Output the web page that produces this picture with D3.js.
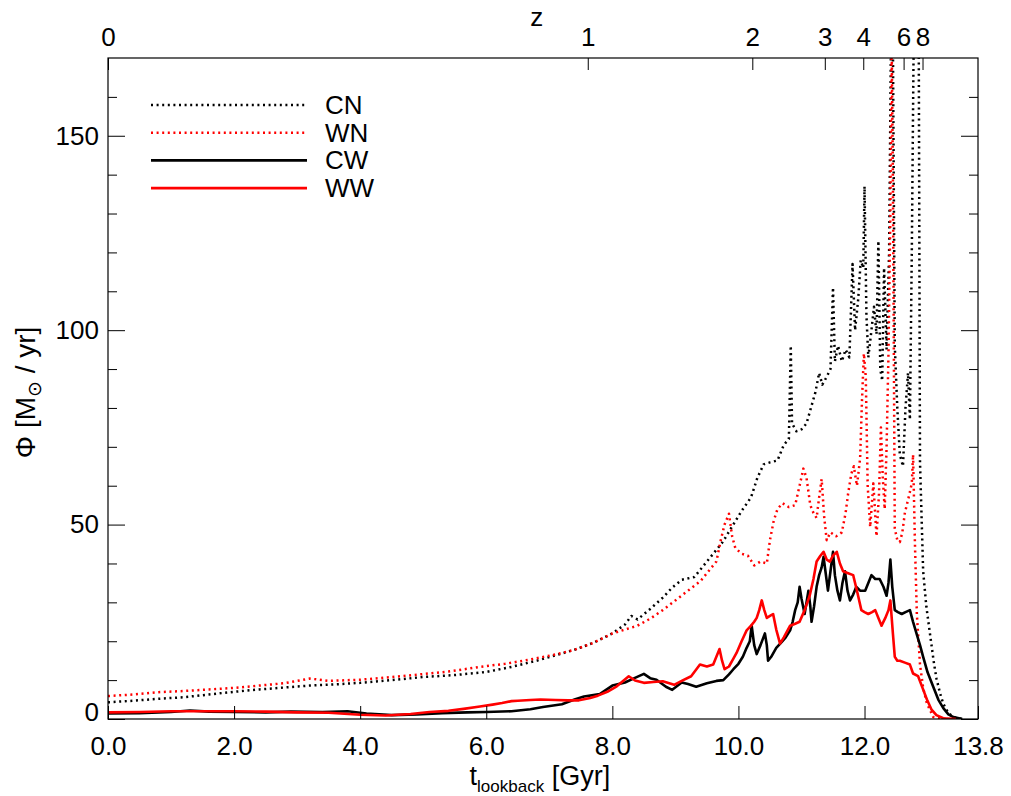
<!DOCTYPE html>
<html>
<head>
<meta charset="utf-8">
<script src="https://cdn.jsdelivr.net/npm/d3@7"></script>
<style>
  body { margin: 0; background: #fff; }
  text { font-family: "Liberation Sans", Arial, sans-serif; fill: #000; }
</style>
</head>
<body>
<div id="chart"></div>
<script>
// [lookback time (Gyr), Phi (Msun/yr)]
var cn = [[0,4.3],[0.4,4.7],[0.8,5.2],[1.2,5.6],[1.6,6.3],[2.0,7.0],[2.4,7.6],[2.8,8.1],[3.2,8.6],[3.6,8.9],[4.0,9.3],[4.5,10.0],[5.0,10.8],[5.5,11.3],[6.0,12.1],[6.4,13.4],[6.8,15.0],[7.1,16.4],[7.4,17.8],[7.7,19.6],[8.0,22.0],[8.2,24.3],[8.3,26.5],[8.4,25.6],[8.6,28.3],[8.8,31.2],[8.95,33.8],[9.1,35.8],[9.3,36.5],[9.45,39.5],[9.6,42.5],[9.75,45.5],[9.9,49.5],[10.05,53.5],[10.2,57],[10.3,62],[10.4,65.5],[10.5,66],[10.62,66.5],[10.72,70.5],[10.8,72],[10.83,96],[10.85,76],[10.92,74],[11.0,74.5],[11.08,76],[11.15,80],[11.22,84],[11.28,89],[11.33,86],[11.4,88],[11.46,90],[11.5,111],[11.53,92],[11.58,96],[11.64,92],[11.7,95],[11.76,93],[11.81,117],[11.85,100],[11.9,108],[11.94,118],[11.98,116],[12.0,137],[12.03,104],[12.06,93],[12.11,100],[12.15,106],[12.19,99],[12.22,123],[12.25,90],[12.28,87],[12.31,116],[12.35,95],[12.39,120],[12.42,175],[12.45,175],[12.48,96],[12.52,80],[12.56,68],[12.61,65],[12.65,80],[12.69,89],[12.72,77],[12.75,120],[12.78,175],[12.86,175],[12.88,66],[12.93,38],[12.98,29],[13.04,21.7],[13.1,14.5],[13.14,10.5],[13.2,6.5],[13.25,3.9],[13.33,1.5],[13.41,0.5],[13.55,0]];

var wn = [[0,5.9],[0.4,6.3],[0.8,6.9],[1.2,7.2],[1.6,7.6],[2.0,8.0],[2.4,8.6],[2.8,9.2],[3.2,10.4],[3.5,9.8],[4.0,10.1],[4.5,10.8],[4.9,11.4],[5.4,12.2],[5.9,13.4],[6.3,14.2],[6.7,15.3],[7.1,16.6],[7.4,17.8],[7.7,19.6],[8.0,22.0],[8.2,23.0],[8.4,24.0],[8.6,25.8],[8.8,28.0],[9.0,30.5],[9.2,33.0],[9.4,35.5],[9.55,38.5],[9.65,40.5],[9.72,46],[9.78,50],[9.85,52.8],[9.9,47],[9.95,44],[10.05,42.5],[10.15,42],[10.25,39.5],[10.35,40.5],[10.45,40],[10.5,46],[10.56,51],[10.62,54],[10.7,55.5],[10.8,54.5],[10.9,55],[10.97,60],[11.03,64.4],[11.08,62],[11.14,55],[11.19,53],[11.24,51.7],[11.28,57],[11.32,61.7],[11.36,52],[11.4,46],[11.46,48],[11.55,47],[11.64,48],[11.7,53],[11.74,58],[11.79,63],[11.83,65],[11.88,60],[11.93,67],[11.96,82],[11.99,94],[12.02,88],[12.05,60],[12.09,49.4],[12.14,60.6],[12.19,47],[12.23,58],[12.26,75],[12.29,62],[12.32,54],[12.35,70],[12.38,94],[12.41,130],[12.43,175],[12.45,140],[12.48,49],[12.52,46],[12.56,45.5],[12.6,48],[12.64,53],[12.7,57],[12.75,60.6],[12.77,68],[12.8,45],[12.83,27],[12.88,14],[12.93,8],[12.99,4],[13.09,0.5],[13.3,0]];

var cw = [[0,1.4],[0.5,1.5],[1.0,1.8],[1.3,2.2],[1.6,1.9],[2.0,1.8],[2.5,1.7],[2.9,1.9],[3.4,1.8],[3.8,2.0],[4.1,1.4],[4.5,1.0],[4.9,1.2],[5.3,1.5],[5.7,1.7],[6.0,1.8],[6.4,2.0],[6.7,2.5],[6.9,3.1],[7.2,3.8],[7.4,5.0],[7.55,5.8],[7.8,6.4],[8.0,8.6],[8.2,9.4],[8.35,10.5],[8.5,11.6],[8.6,10.5],[8.7,10.1],[8.85,8.3],[8.95,7.5],[9.1,9.4],[9.2,9.0],[9.33,8.3],[9.5,9.2],[9.65,9.8],[9.76,10.0],[9.85,11.5],[9.92,12.8],[10.0,14.2],[10.07,16],[10.13,18.3],[10.18,20],[10.21,24],[10.25,19],[10.29,16.7],[10.35,19],[10.42,22],[10.45,19],[10.47,15],[10.52,16],[10.6,18.3],[10.67,19.5],[10.75,21],[10.82,22.8],[10.86,25],[10.9,28],[10.94,30],[10.97,34],[11.0,31],[11.05,27],[11.08,30],[11.11,33],[11.14,29],[11.16,25],[11.2,29],[11.24,34],[11.28,37],[11.32,39],[11.35,41.7],[11.38,38],[11.42,33],[11.46,38],[11.5,43],[11.53,37],[11.57,33],[11.61,30.5],[11.65,35],[11.69,38],[11.73,33],[11.77,30.5],[11.82,32],[11.87,34],[11.93,33],[12.01,33],[12.06,35],[12.11,37],[12.17,36],[12.24,36],[12.3,34],[12.35,31.7],[12.38,35],[12.41,41],[12.44,34],[12.48,28],[12.53,27.5],[12.59,27],[12.65,27.5],[12.72,28],[12.77,25],[12.83,21.7],[12.88,19],[12.93,16],[13.0,12],[13.09,8.3],[13.17,5],[13.25,2.8],[13.33,1.2],[13.41,0.5],[13.55,0]];

var ww = [[0,1.7],[0.5,1.8],[1.0,2.0],[1.5,2.0],[2.0,2.0],[2.5,1.9],[3.0,1.7],[3.5,1.6],[4.0,1.1],[4.4,0.9],[4.8,1.3],[5.1,1.8],[5.4,2.1],[5.64,2.6],[5.9,3.2],[6.1,3.7],[6.25,4.1],[6.4,4.6],[6.5,4.7],[6.7,4.9],[6.86,5.0],[7.1,4.9],[7.3,4.8],[7.47,4.8],[7.65,5.4],[7.77,6.0],[7.92,7.0],[8.07,8.4],[8.17,9.8],[8.26,11.0],[8.36,9.9],[8.5,9.3],[8.65,9.5],[8.8,9.7],[8.98,8.8],[9.1,9.8],[9.25,11],[9.39,14],[9.5,13.5],[9.6,14],[9.65,16],[9.7,18],[9.74,15],[9.78,12.8],[9.85,13.5],[9.92,15.5],[9.97,17],[10.05,20],[10.13,22.8],[10.2,24],[10.25,25],[10.29,26],[10.33,28],[10.37,30.5],[10.41,28],[10.45,26],[10.5,26.5],[10.55,27],[10.6,23],[10.66,19.4],[10.72,21],[10.82,24],[10.9,24.5],[10.97,25],[11.05,28],[11.13,31.7],[11.19,36],[11.24,40.5],[11.3,42],[11.35,43],[11.4,41],[11.45,40.5],[11.5,42],[11.56,43],[11.61,40],[11.66,38],[11.74,37.5],[11.82,37],[11.88,33],[11.95,28],[12.0,27.5],[12.06,27],[12.12,27.5],[12.17,28],[12.22,26],[12.27,24],[12.33,26],[12.38,28],[12.41,30.5],[12.45,22],[12.48,16],[12.52,15],[12.56,15],[12.64,14.5],[12.72,14],[12.77,11.7],[12.85,11],[12.92,8],[12.99,5],[13.06,2.5],[13.14,1],[13.25,0.2],[13.45,0]];

var seriesNames = ["CN", "WN", "CW", "WW"];
var xTicks = [0, 2, 4, 6, 8, 10, 12, 13.8];
var yTicks = [0, 50, 100, 150];
var yMinor = [10, 20, 30, 40, 60, 70, 80, 90, 110, 120, 130, 140, 160];
var zLabels = ["0", "1", "2", "3", "4", "6", "8"];
var zTimes = [0, 7.61, 10.22, 11.37, 11.98, 12.62, 12.92];

var margin = { top: 58, right: 33, bottom: 77, left: 108 };
var width = 1011 - margin.left - margin.right;
var height = 796 - margin.top - margin.bottom;

var svg = d3.select("#chart")
    .append("svg")
    .attr("width", width + margin.left + margin.right)
    .attr("height", height + margin.top + margin.bottom)
    .append("g")
    .attr("transform", "translate(" + margin.left + "," + margin.top + ")");

var x = d3.scaleLinear().domain([0, 13.8]).range([0, width]);
var y = d3.scaleLinear().domain([0, 170]).range([height, 0]);

svg.append("clipPath").attr("id", "clip")
    .append("rect").attr("width", width).attr("height", height);

// series styles, same order as the legend
var styles = [
    { data: cn, color: "#000", dash: "2,3.6", w: 2.5 },
    { data: wn, color: "#ff0000", dash: "2,3.6", w: 2.5 },
    { data: cw, color: "#000", dash: null, w: 2.6 },
    { data: ww, color: "#ff0000", dash: null, w: 2.6 }
];

var line = d3.line().x(d => x(d[0])).y(d => y(d[1]));

svg.append("g").attr("clip-path", "url(#clip)")
    .selectAll("path")
    .data(styles)
    .join("path")
    .attr("d", d => line(d.data))
    .attr("fill", "none")
    .attr("stroke", d => d.color)
    .attr("stroke-width", d => d.w)
    .attr("stroke-dasharray", d => d.dash)
    .attr("stroke-linejoin", "round");

// axes
function clean(g) {
    g.select(".domain").remove();
    g.selectAll("text").style("font-size", "26px").style("font-family", "'Liberation Sans', Arial, sans-serif");
    g.selectAll(".tick line").attr("stroke", "#000");
}

svg.append("g")
    .attr("transform", "translate(0," + height + ")")
    .call(d3.axisBottom(x).tickValues(xTicks).tickFormat(d3.format(".1f")).tickSize(-13).tickPadding(18))
    .call(clean);

svg.append("g")
    .call(d3.axisTop(x).tickValues(zTimes).tickFormat((d, i) => zLabels[i]).tickSize(-12).tickPadding(12))
    .call(clean);

svg.append("g")
    .call(d3.axisLeft(y).tickValues(yTicks).tickSize(-17).tickPadding(9))
    .call(clean)
    .call(g => g.selectAll(".tick text").filter(d => d === 0).attr("dy", "0.05em"));

svg.append("g")
    .call(d3.axisLeft(y).tickValues(yMinor).tickSize(-9).tickFormat(""))
    .call(clean);

svg.append("g")
    .attr("transform", "translate(" + width + ",0)")
    .call(d3.axisRight(y).tickValues(yTicks).tickSize(-17).tickFormat(""))
    .call(clean);

svg.append("g")
    .attr("transform", "translate(" + width + ",0)")
    .call(d3.axisRight(y).tickValues(yMinor).tickSize(-9).tickFormat(""))
    .call(clean);

svg.append("rect")
    .attr("width", width).attr("height", height)
    .attr("fill", "none").attr("stroke", "#000").attr("stroke-width", 1.2);

// axis titles
svg.append("text")
    .attr("x", x(6.8)).attr("y", -32)
    .attr("text-anchor", "middle")
    .style("font-size", "26px")
    .text("z");

var xl = svg.append("text")
    .attr("x", x(6.85)).attr("y", height + 66)
    .attr("text-anchor", "middle")
    .style("font-size", "27px");
xl.append("tspan").text("t");
xl.append("tspan").attr("dy", 7).style("font-size", "17px").text("lookback");
xl.append("tspan").attr("dy", -7).text(" [Gyr]");

var yl = svg.append("text")
    .attr("transform", "translate(" + (-73) + "," + y(84) + ") rotate(-90)")
    .attr("text-anchor", "middle")
    .style("font-size", "28px");
yl.append("tspan").text("\u03A6 [M");
yl.append("tspan").attr("dy", 6).style("font-size", "19px").style("font-family", "'DejaVu Sans'").text("\u2299");
yl.append("tspan").attr("dy", -6).text(" / yr]");

// legend
var legend = svg.append("g").attr("transform", "translate(43,47)");
legend.selectAll("line")
    .data(styles)
    .join("line")
    .attr("x1", 0).attr("x2", 156)
    .attr("y1", (d, i) => i * 27.7).attr("y2", (d, i) => i * 27.7)
    .attr("stroke", d => d.color)
    .attr("stroke-width", d => d.w)
    .attr("stroke-dasharray", d => d.dash);
legend.selectAll("text")
    .data(seriesNames)
    .join("text")
    .attr("x", 174)
    .attr("y", (d, i) => i * 27.7 + 9)
    .style("font-size", "26px")
    .text(d => d);
</script>
</body>
</html>
